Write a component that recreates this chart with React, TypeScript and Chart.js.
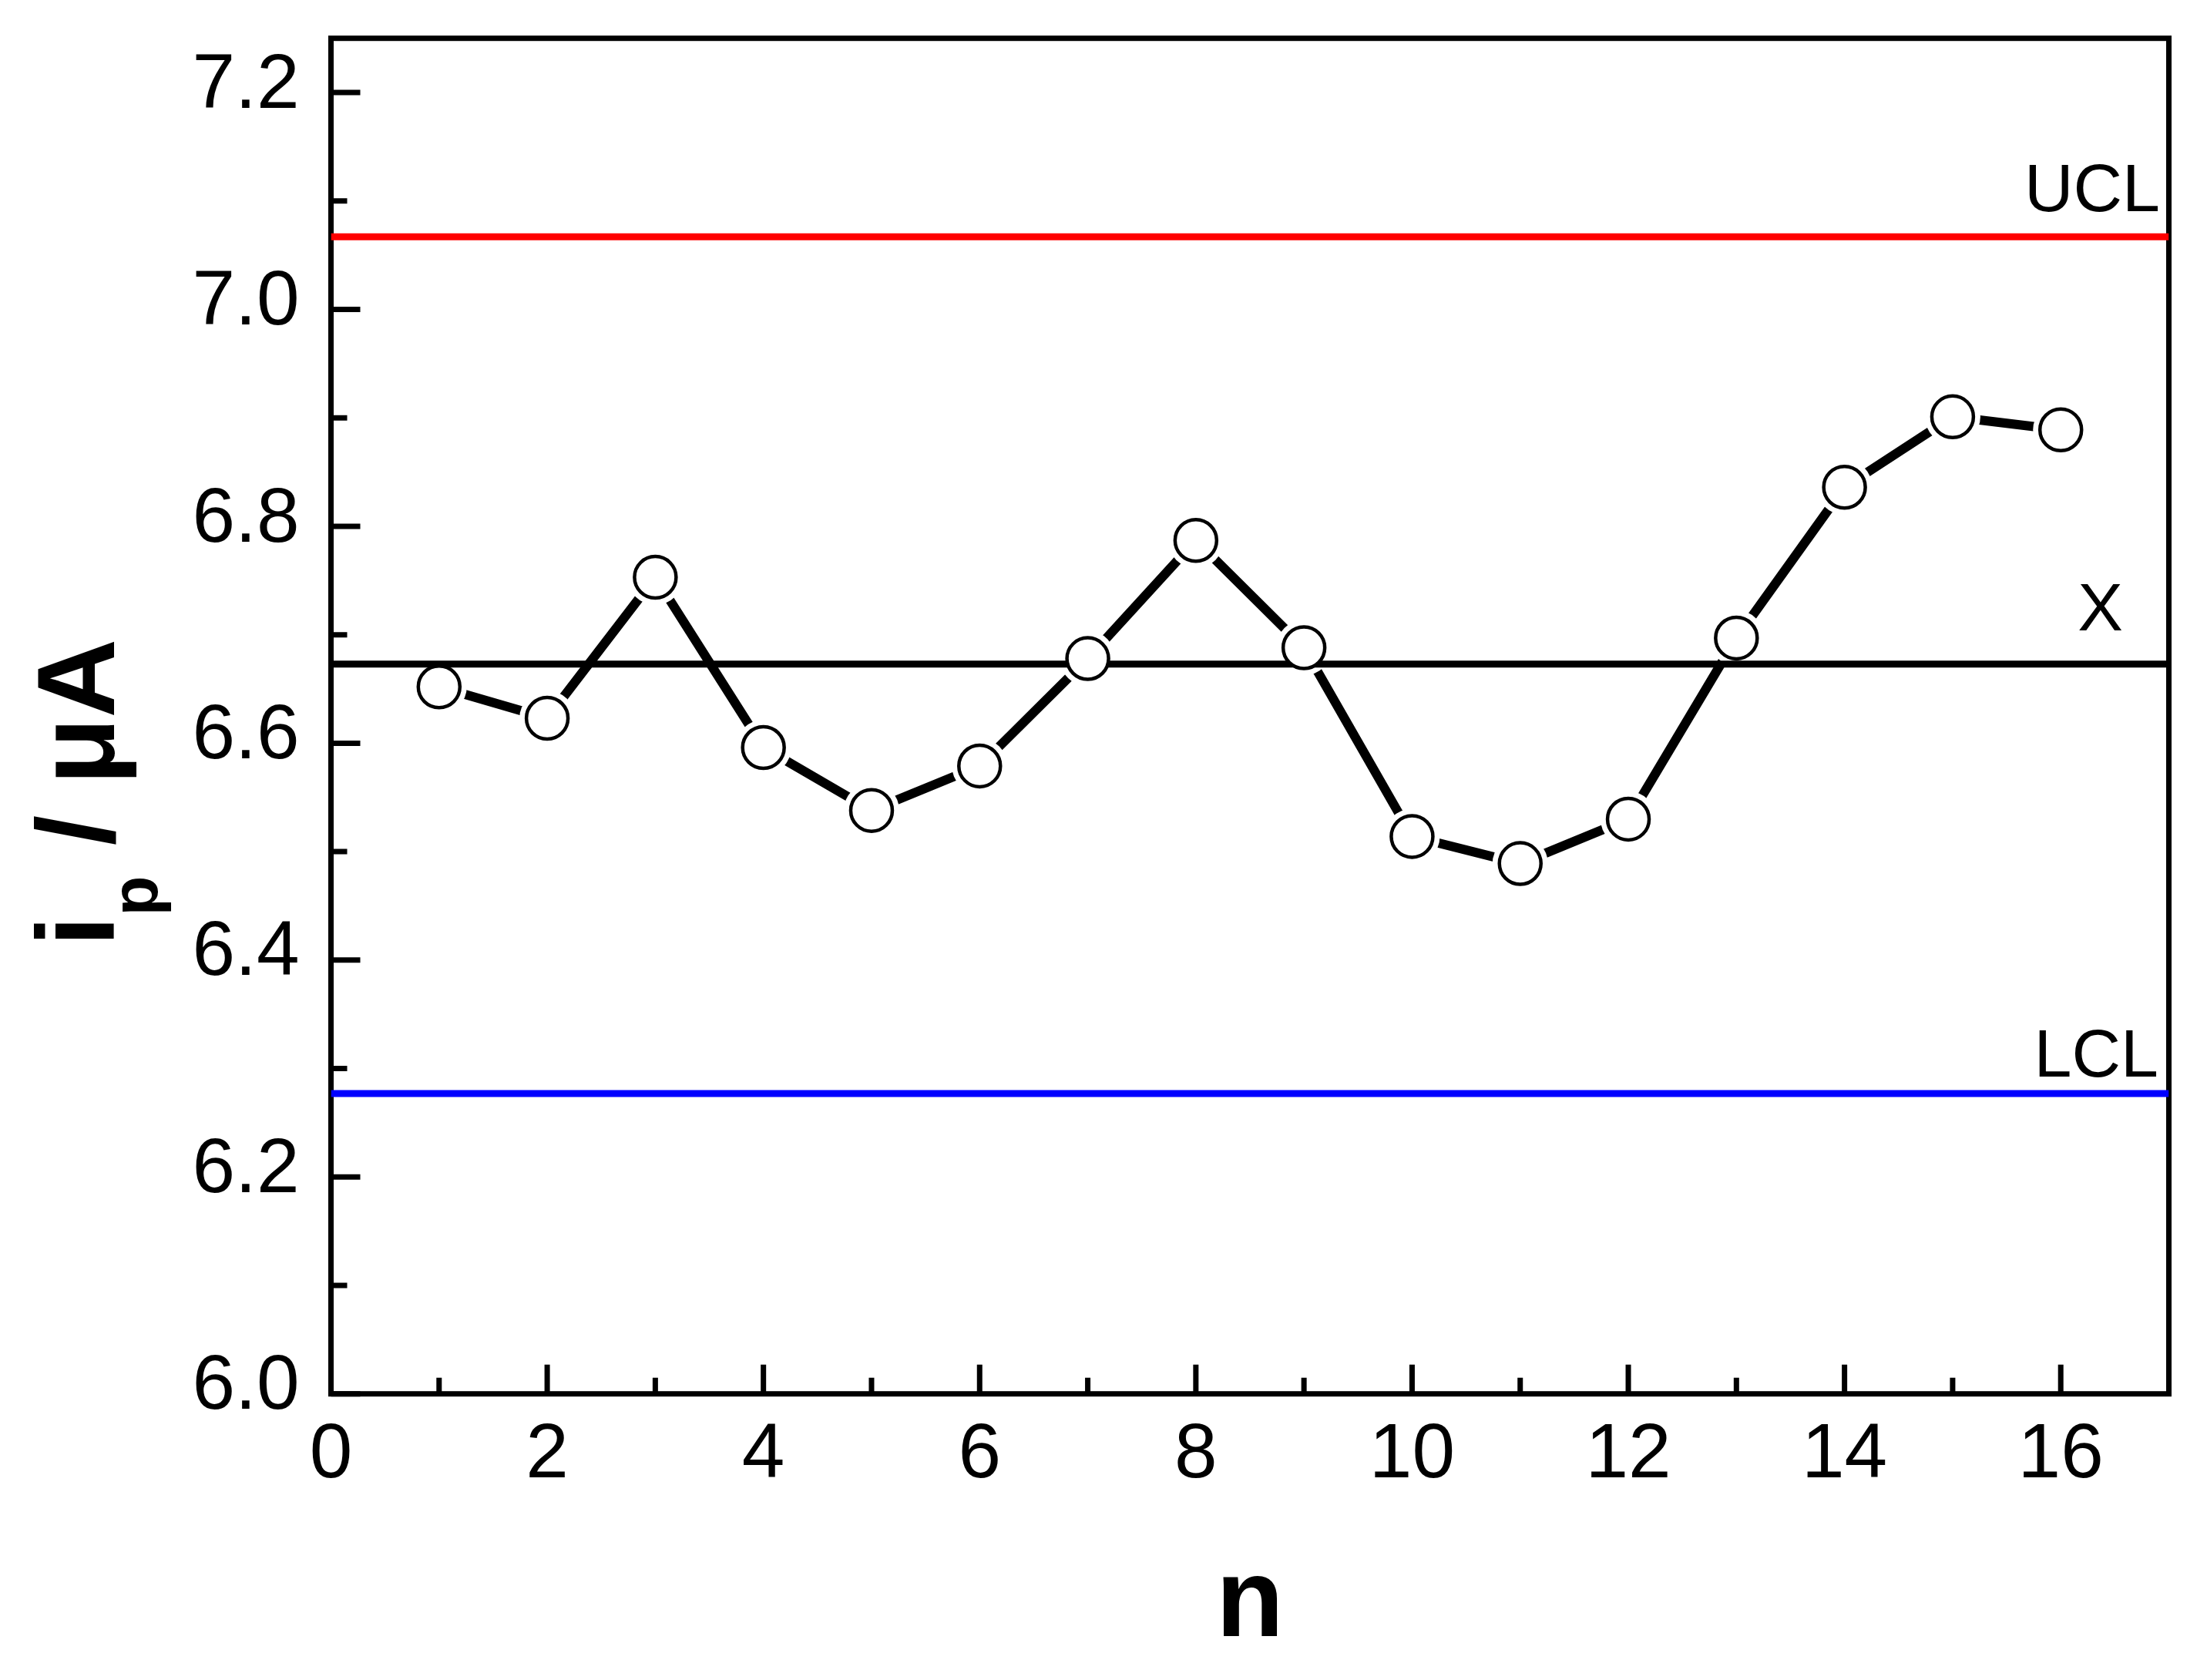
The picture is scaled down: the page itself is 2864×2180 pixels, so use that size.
import React, { useEffect, useRef } from "react";
import { Chart, registerables } from "chart.js";

Chart.register(...registerables);

// ---- data ----
const runNumbers = [1, 2, 3, 4, 5, 6, 7, 8, 9, 10, 11, 12, 13, 14, 15, 16];
const peakCurrents = [6.652, 6.623, 6.753, 6.596, 6.538, 6.579, 6.678, 6.787, 6.688, 6.514, 6.489, 6.53, 6.697, 6.836, 6.901, 6.889];
const upperControlLimit = 7.067;
const centerLine = 6.673;
const lowerControlLimit = 6.277;
const xRange = [0, 17];
const yRange = [6.0, 7.25];
const xMajorTicks = [0, 2, 4, 6, 8, 10, 12, 14, 16];
const xMinorTicks = [1, 3, 5, 7, 9, 11, 13, 15];
const yMajorTicks = [6.0, 6.2, 6.4, 6.6, 6.8, 7.0, 7.2];
const yMinorTicks = [6.1, 6.3, 6.5, 6.7, 6.9, 7.1];
const limitLabels = ["UCL", "X", "LCL"];
const xTitle = "n";
const yTitleMain = "i";
const yTitleSub = "p";
const yTitleRest = " / μA";

const FONT = '"Liberation Sans", Arial, Helvetica, sans-serif';
const W = 2864;
const H = 2180;

const framePlugin = {
  id: "frameTicks",
  beforeDatasetsDraw(chart: any) {
    const { ctx, chartArea: a, scales } = chart;
    const x = scales.x;
    const y = scales.y;
    ctx.save();
    ctx.strokeStyle = "#000";
    ctx.lineWidth = 7;
    ctx.lineJoin = "miter";
    ctx.strokeRect(a.left, a.top, a.right - a.left, a.bottom - a.top);
    ctx.beginPath();
    const major = 38;
    const minor = 21;
    for (const v of xMajorTicks) {
      const px = x.getPixelForValue(v);
      ctx.moveTo(px, a.bottom);
      ctx.lineTo(px, a.bottom - major);
    }
    for (const v of xMinorTicks) {
      const px = x.getPixelForValue(v);
      ctx.moveTo(px, a.bottom);
      ctx.lineTo(px, a.bottom - minor);
    }
    for (const v of yMajorTicks) {
      const py = y.getPixelForValue(v);
      ctx.moveTo(a.left, py);
      ctx.lineTo(a.left + major, py);
    }
    for (const v of yMinorTicks) {
      const py = y.getPixelForValue(v);
      ctx.moveTo(a.left, py);
      ctx.lineTo(a.left + minor, py);
    }
    ctx.stroke();
    ctx.restore();
  },
  afterDraw(chart: any) {
    const { ctx, scales } = chart;
    const y = scales.y;
    ctx.save();
    ctx.fillStyle = "#000";
    ctx.font = `88px ${FONT}`;
    ctx.textAlign = "right";
    ctx.textBaseline = "alphabetic";
    ctx.fillText(limitLabels[0], 2803, y.getPixelForValue(upperControlLimit) - 33);
    ctx.fillText(limitLabels[1], 2755, y.getPixelForValue(centerLine) - 44);
    ctx.fillText(limitLabels[2], 2801, y.getPixelForValue(lowerControlLimit) - 22);
    ctx.restore();

    // y-axis title with subscript
    ctx.save();
    ctx.translate(148, 1228);
    ctx.rotate(-Math.PI / 2);
    ctx.fillStyle = "#000";
    ctx.textAlign = "left";
    ctx.textBaseline = "alphabetic";
    ctx.font = `bold 142px ${FONT}`;
    ctx.fillText(yTitleMain, 0, 0);
    let w = ctx.measureText(yTitleMain).width;
    ctx.font = `bold 85px ${FONT}`;
    ctx.fillText(yTitleSub, w, 56);
    w += ctx.measureText(yTitleSub).width;
    ctx.font = `bold 142px ${FONT}`;
    ctx.fillText(yTitleRest, w, 0);
    ctx.restore();
  },
};

const zeroPadding = (s: any) => {
  s.paddingTop = 0;
  s.paddingBottom = 0;
  s.paddingLeft = 0;
  s.paddingRight = 0;
};

export default function App() {
  const canvasRef = useRef<HTMLCanvasElement | null>(null);

  useEffect(() => {
    const canvas = canvasRef.current;
    if (!canvas) return;
    const points = runNumbers.map((n, i) => ({ x: n, y: peakCurrents[i] }));
    const hLine = (v: number) => [
      { x: xRange[0], y: v },
      { x: xRange[1], y: v },
    ];

    const chart = new Chart(canvas, {
      type: "scatter",
      data: {
        datasets: [
          {
            label: "line",
            data: points,
            showLine: true,
            borderColor: "#000",
            borderWidth: 12,
            pointRadius: 0,
            tension: 0,
            order: 10,
          },
          {
            label: "halo",
            data: points,
            showLine: false,
            pointRadius: 36,
            pointBackgroundColor: "#fff",
            pointBorderWidth: 0,
            pointBorderColor: "#fff",
            order: 5,
          },
          {
            label: "UCL",
            data: hLine(upperControlLimit),
            showLine: true,
            borderColor: "#ff0000",
            borderWidth: 9,
            pointRadius: 0,
            order: 3,
          },
          {
            label: "X",
            data: hLine(centerLine),
            showLine: true,
            borderColor: "#000",
            borderWidth: 9,
            pointRadius: 0,
            order: 3,
          },
          {
            label: "LCL",
            data: hLine(lowerControlLimit),
            showLine: true,
            borderColor: "#0000ff",
            borderWidth: 9,
            pointRadius: 0,
            order: 3,
          },
          {
            label: "ip",
            data: points,
            showLine: false,
            pointRadius: 27,
            pointBackgroundColor: "#fff",
            pointBorderColor: "#000",
            pointBorderWidth: 4.5,
            order: 1,
          },
        ],
      },
      options: {
        responsive: false,
        animation: false,
        devicePixelRatio: 1,
        events: [],
        layout: { padding: { left: 0, top: 49.7, right: W - 2814.5, bottom: 0 } },
        plugins: {
          legend: { display: false },
          tooltip: { enabled: false },
        },
        scales: {
          x: {
            type: "linear",
            min: xRange[0],
            max: xRange[1],
            afterBuildTicks: (s: any) => {
              s.ticks = xMajorTicks.map((v) => ({ value: v }));
            },
            afterFit: (s: any) => {
              s.height = H - 1808.7;
              zeroPadding(s);
            },
            grid: { display: false, drawTicks: false },
            border: { display: false },
            ticks: {
              color: "#000",
              font: { family: FONT, size: 100 },
              padding: 21,
              maxRotation: 0,
              autoSkip: false,
              callback: (v: any) => String(v),
            },
            title: {
              display: true,
              text: xTitle,
              color: "#000",
              font: { family: FONT, size: 144, weight: "bold" },
              padding: { top: 0, bottom: 10 },
            },
          },
          y: {
            type: "linear",
            min: yRange[0],
            max: yRange[1],
            afterBuildTicks: (s: any) => {
              s.ticks = yMajorTicks.map((v) => ({ value: v }));
            },
            afterFit: (s: any) => {
              s.width = 429.5;
              zeroPadding(s);
            },
            grid: { display: false, drawTicks: false },
            border: { display: false },
            ticks: {
              color: "#000",
              font: { family: FONT, size: 100 },
              padding: 41,
              labelOffset: -8,
              autoSkip: false,
              callback: (v: any) => Number(v).toFixed(1),
            },
          },
        },
      },
      plugins: [framePlugin],
    } as any);

    return () => {
      chart.destroy();
    };
  }, []);

  return (
    <div style={{ position: "fixed", left: 0, top: 0, width: W, height: H, background: "#fff" }}>
      <canvas ref={canvasRef} width={W} height={H} style={{ display: "block", width: W, height: H }} />
    </div>
  );
}
